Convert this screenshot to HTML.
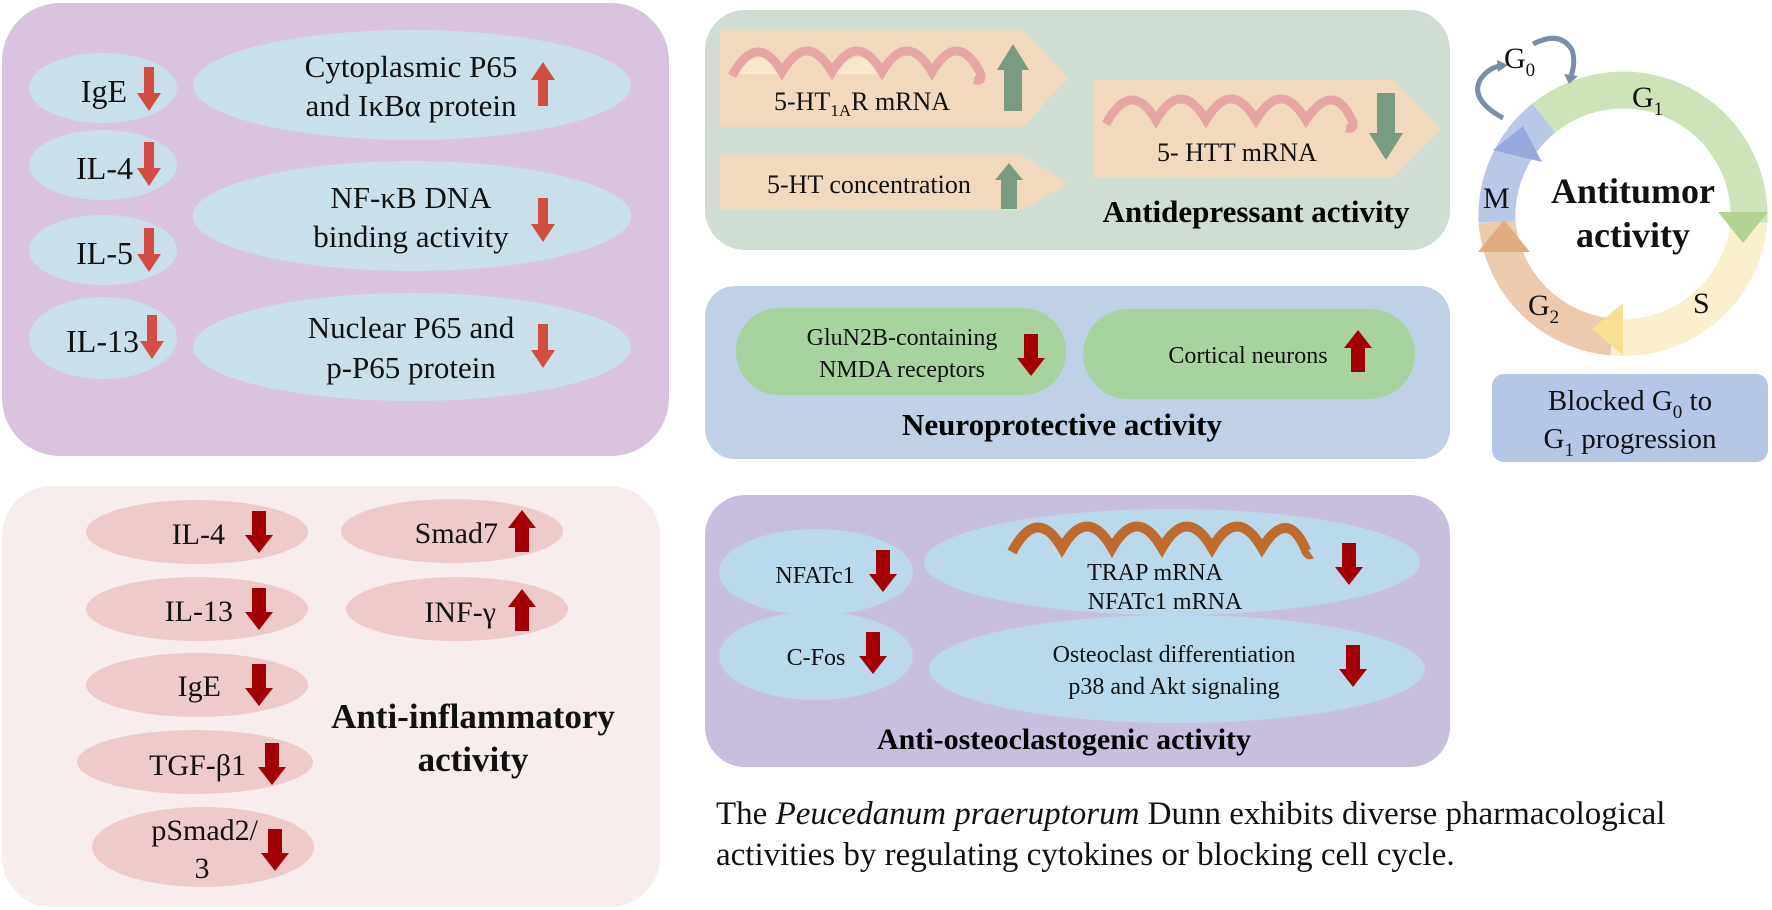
<!DOCTYPE html>
<html><head><meta charset="utf-8"><style>
html,body{margin:0;padding:0;background:#fff;}
svg{display:block;font-family:"Liberation Serif",serif;}
</style></head><body>
<svg width="1772" height="910" viewBox="0 0 1772 910" xmlns="http://www.w3.org/2000/svg">
<defs>
<g id="dr"><rect x="-5" y="-22" width="10" height="28" fill="#d24d44"/><polygon points="-12,4 12,4 0,22" fill="#d24d44"/></g>
<g id="ur"><rect x="-5" y="-6" width="10" height="28" fill="#d24d44"/><polygon points="-12,-4 12,-4 0,-22" fill="#d24d44"/></g>
<g id="dd"><rect x="-7" y="-21" width="14" height="26" fill="#a30006"/><polygon points="-14,3 14,3 0,21" fill="#a30006"/></g>
<g id="ud"><rect x="-7" y="-5" width="14" height="26" fill="#a30006"/><polygon points="-14,-3 14,-3 0,-21" fill="#a30006"/></g>
</defs>

<!-- Purple box -->
<rect x="2" y="3" width="667" height="453" rx="58" fill="#d9c3de"/>
<g fill="#c9e0ea">
<ellipse cx="103" cy="88" rx="74" ry="35"/>
<ellipse cx="103" cy="165" rx="74" ry="35"/>
<ellipse cx="103" cy="250" rx="74" ry="35"/>
<ellipse cx="103" cy="338" rx="74" ry="41"/>
<ellipse cx="412" cy="85" rx="219" ry="55"/>
<ellipse cx="412" cy="216" rx="219" ry="55"/>
<ellipse cx="412" cy="347" rx="219" ry="54"/>
</g>
<g font-size="32" fill="#111">
<text x="127" y="102" text-anchor="end">IgE</text>
<text x="133" y="179" text-anchor="end">IL-4</text>
<text x="133" y="264" text-anchor="end">IL-5</text>
<text x="139" y="352" text-anchor="end">IL-13</text>
</g>
<g font-size="31" fill="#111" text-anchor="middle">
<text x="411" y="77">Cytoplasmic P65</text>
<text x="411" y="116">and IκBα protein</text>
<text x="411" y="208">NF-κB DNA</text>
<text x="411" y="247">binding activity</text>
<text x="411" y="338">Nuclear P65 and</text>
<text x="411" y="378">p-P65 protein</text>
</g>
<use href="#dr" x="149" y="89"/>
<use href="#dr" x="149" y="164"/>
<use href="#dr" x="149" y="250"/>
<use href="#dr" x="152" y="337"/>
<use href="#ur" x="543" y="84"/>
<use href="#dr" x="543" y="220"/>
<use href="#dr" x="543" y="346"/>

<!-- Pink box -->
<rect x="2" y="486" width="658" height="421" rx="50" fill="#f8eded"/>
<g fill="#eecbcb">
<ellipse cx="197" cy="532" rx="111" ry="32"/>
<ellipse cx="197" cy="609" rx="111" ry="32"/>
<ellipse cx="197" cy="685" rx="111" ry="32"/>
<ellipse cx="195" cy="762" rx="118" ry="32"/>
<ellipse cx="203" cy="847" rx="111" ry="40"/>
<ellipse cx="452" cy="531" rx="111" ry="32"/>
<ellipse cx="457" cy="609" rx="111" ry="32"/>
</g>
<g font-size="30" fill="#111">
<text x="225" y="544" text-anchor="end">IL-4</text>
<text x="233" y="621" text-anchor="end">IL-13</text>
<text x="221" y="696" text-anchor="end">IgE</text>
<text x="246" y="775" text-anchor="end">TGF-β1</text>
<text x="258" y="840" text-anchor="end">pSmad2/</text>
<text x="202" y="878" text-anchor="middle">3</text>
<text x="498" y="543" text-anchor="end">Smad7</text>
<text x="496" y="622" text-anchor="end">INF-γ</text>
</g>
<use href="#dd" x="259" y="532"/>
<use href="#dd" x="259" y="609"/>
<use href="#dd" x="259" y="685"/>
<use href="#dd" x="272" y="764"/>
<use href="#dd" x="275" y="850"/>
<use href="#ud" x="522" y="531"/>
<use href="#ud" x="522" y="610"/>
<g font-size="35" font-weight="bold" fill="#111" text-anchor="middle">
<text x="473" y="728">Anti-inflammatory</text>
<text x="473" y="771">activity</text>
</g>

<!-- Green antidepressant box -->
<rect x="705" y="10" width="745" height="240" rx="40" fill="#cfddd2"/>
<polygon points="720,29 1023,29 1068,78 1023,127 720,127" fill="#f0d9bf"/>
<polygon points="720,156 1023,156 1068,183 1023,210 720,210" fill="#f0d9bf"/>
<polygon points="1094,80 1393,80 1441,129 1393,178 1094,178" fill="#f0d9bf"/>
<path d="M736,74 Q760,40 784,74 Z M836,74 Q860,40 884,74 Z" fill="#f9e8cd"/>
<path d="M732,76 Q757,30 782,72 Q807,30 832,72 Q857,30 882,72 Q907,30 932,72 Q957,30 980,72 q4,10 -6,8" fill="none" stroke="#e8a5a6" stroke-width="9"/>
<path d="M1106,124 Q1131,78 1156,120 Q1181,78 1206,120 Q1231,78 1256,120 Q1281,78 1306,120 Q1333,80 1352,120 q4,10 -6,8" fill="none" stroke="#e8a5a6" stroke-width="9"/>
<rect x="1004" y="68" width="18" height="43" fill="#7a9a82"/><polygon points="997,70 1029,70 1013,44" fill="#7a9a82"/>
<rect x="1001" y="178" width="16" height="31" fill="#7a9a82"/><polygon points="995,180 1023,180 1009,163" fill="#7a9a82"/>
<rect x="1377" y="93" width="18" height="42" fill="#7a9a82"/><polygon points="1369,133 1403,133 1386,160" fill="#7a9a82"/>
<g font-size="26" fill="#111">
<text x="774" y="110">5-HT<tspan font-size="17" dy="6">1A</tspan><tspan dy="-6">R mRNA</tspan></text>
<text x="767" y="193">5-HT concentration</text>
<text x="1157" y="161">5- HTT mRNA</text>
</g>
<text x="1256" y="222" font-size="31" font-weight="bold" text-anchor="middle">Antidepressant activity</text>

<!-- Neuroprotective box -->
<rect x="705" y="286" width="745" height="173" rx="30" fill="#c0d1e6"/>
<rect x="736" y="308" width="330" height="87" rx="43" fill="#a8d3a0"/>
<rect x="1083" y="309" width="332" height="90" rx="45" fill="#a8d3a0"/>
<g font-size="24" fill="#111" text-anchor="middle">
<text x="902" y="345">GluN2B-containing</text>
<text x="902" y="377">NMDA receptors</text>
<text x="1248" y="363">Cortical neurons</text>
</g>
<use href="#dd" x="1031" y="355"/>
<use href="#ud" x="1358" y="351"/>
<text x="1062" y="435" font-size="31" font-weight="bold" text-anchor="middle">Neuroprotective activity</text>

<!-- Osteoclast box -->
<rect x="705" y="495" width="745" height="272" rx="40" fill="#c8bfdf"/>
<g fill="#bad9ea">
<ellipse cx="816" cy="572" rx="97" ry="43"/>
<ellipse cx="816" cy="656" rx="97" ry="44"/>
<ellipse cx="1172" cy="562" rx="248" ry="53"/>
<ellipse cx="1177" cy="669" rx="248" ry="54"/>
</g>
<path d="M1012,552 Q1037,505 1062,548 Q1087,505 1112,548 Q1137,505 1162,548 Q1187,505 1212,548 Q1237,505 1262,548 Q1287,508 1305,548 q3,8 6,6" fill="none" stroke="#bf6b2d" stroke-width="10"/>
<g font-size="24" fill="#111" text-anchor="middle">
<text x="815" y="583">NFATc1</text>
<text x="816" y="665">C-Fos</text>
<text x="1155" y="580">TRAP mRNA</text>
<text x="1165" y="609">NFATc1 mRNA</text>
<text x="1174" y="662">Osteoclast differentiation</text>
<text x="1174" y="694">p38 and Akt signaling</text>
</g>
<use href="#dd" x="883" y="571"/>
<use href="#dd" x="873" y="653"/>
<use href="#dd" x="1349" y="564"/>
<use href="#dd" x="1353" y="666"/>
<text x="1064" y="749" font-size="30" font-weight="bold" text-anchor="middle">Anti-osteoclastogenic activity</text>

<!-- Cell cycle -->
<g fill="none" stroke-width="37">
<path d="M1544,118 A126,126 0 0 1 1749,222" stroke="#cfe3b8"/>
<path d="M1749,222 A126,126 0 0 1 1612,337" stroke="#fbf0cc"/>
<path d="M1612,337 A126,126 0 0 1 1497,222" stroke="#eccbad"/>
<path d="M1497,222 A126,126 0 0 1 1544,118" stroke="#b9c8e6"/>
</g>
<polygon points="1718,212 1768,212 1743,243" fill="#b4d393"/>
<polygon points="1623,303 1623,355 1592,329" fill="#f6e193"/>
<polygon points="1478,252 1530,252 1504,220" fill="#e3ac80"/>
<polygon points="1493,150 1523,126 1542,162" fill="#97a9dc"/>
<path d="M1503,118 Q1470,100 1480,80 Q1488,68 1500,66" fill="none" stroke="#7b8ea8" stroke-width="5"/>
<polygon points="1497,60 1508,65 1498,72" fill="#7b8ea8"/>
<path d="M1533,44 Q1560,30 1572,50 Q1576,62 1571,76" fill="none" stroke="#7b8ea8" stroke-width="5"/>
<polygon points="1564,74 1578,76 1569,84" fill="#7b8ea8"/>
<g font-size="30" fill="#111">
<text x="1504" y="68">G<tspan font-size="19" dy="8">0</tspan></text>
<text x="1632" y="107">G<tspan font-size="19" dy="8">1</tspan></text>
<text x="1483" y="208">M</text>
<text x="1693" y="313">S</text>
<text x="1528" y="315">G<tspan font-size="19" dy="8">2</tspan></text>
</g>
<g font-size="36" font-weight="bold" text-anchor="middle" fill="#111">
<text x="1633" y="203">Antitumor</text>
<text x="1633" y="247">activity</text>
</g>
<rect x="1492" y="374" width="276" height="88" rx="12" fill="#b6c6e6"/>
<g font-size="29" fill="#111" text-anchor="middle">
<text x="1630" y="410">Blocked G<tspan font-size="19" dy="8">0</tspan><tspan dy="-8"> to</tspan></text>
<text x="1630" y="448">G<tspan font-size="19" dy="8">1</tspan><tspan dy="-8"> progression</tspan></text>
</g>

<!-- Caption -->
<g font-size="33" fill="#111">
<text x="716" y="824">The <tspan font-style="italic">Peucedanum praeruptorum</tspan> Dunn exhibits diverse pharmacological</text>
<text x="716" y="865">activities by regulating cytokines or blocking cell cycle.</text>
</g>
</svg>
</body></html>
